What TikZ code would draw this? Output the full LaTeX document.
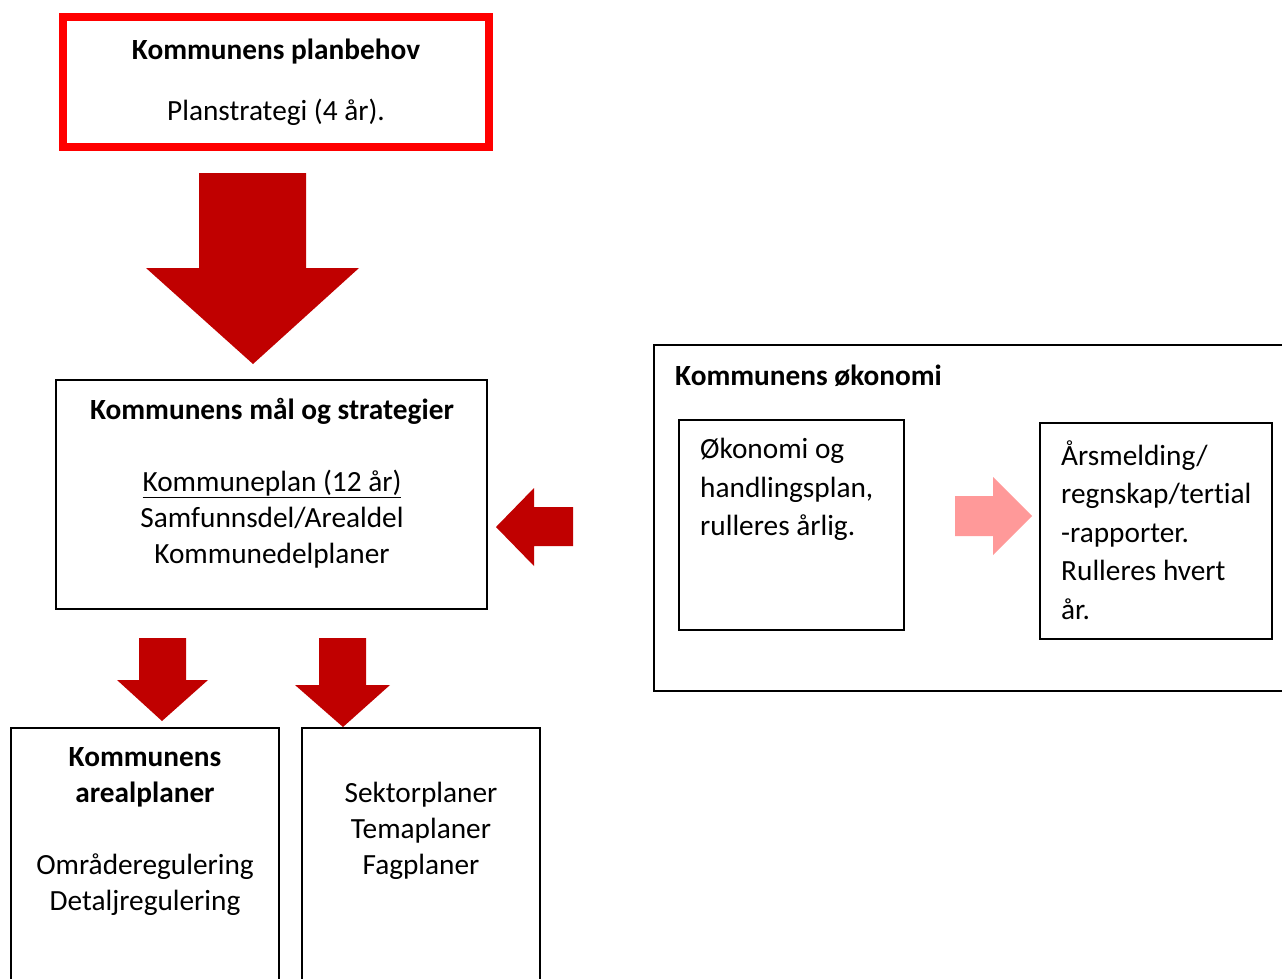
\documentclass[tikz,border=0pt]{standalone}
\usepackage{fontspec}
\setmainfont[Ligatures=NoCommon]{Carlito}
\definecolor{arrowred}{HTML}{C00000}
\definecolor{boxred}{HTML}{FF0000}
\definecolor{softpink}{HTML}{FF9999}
\begin{document}
\begin{tikzpicture}[x=1pt,y=-1pt,
  plainbox/.style={draw=black, line width=2pt, inner sep=0pt, fill=none},
  thinbox/.style={draw=black, line width=1.5pt, inner sep=0pt},
  redbox/.style={draw=boxred, line width=8pt, inner sep=0pt},
  txt/.style={inner sep=0pt, font=\fontsize{29.3}{36}\selectfont, align=center},
  ltxt/.style={inner sep=0pt, font=\fontsize{29.3}{38.5}\selectfont, align=left, anchor=west},
  bigarrow/.style={fill=arrowred, draw=none},
  pinkarrow/.style={fill=softpink, draw=none}]
\useasboundingbox (0,0) rectangle (1282,978);

% boxes
\node[redbox, minimum width=426pt, minimum height=130pt] (plan) at (276,82) {};
\node[plainbox, minimum width=431pt, minimum height=229pt] (mal) at (271.5,494.5) {};
\node[plainbox, minimum width=646pt, minimum height=346pt] (oko) at (977,518) {};
\node[thinbox, minimum width=225pt, minimum height=210pt] (hand) at (791.5,525) {};
\node[thinbox, minimum width=232pt, minimum height=216pt] (ars) at (1156,531) {};
\node[plainbox, minimum width=268pt, minimum height=262pt] (areal) at (145,859) {};
\node[plainbox, minimum width=238pt, minimum height=262pt] (sektor) at (421,859) {};

% texts
\node[txt] (planT) at (276,52) {\bfseries Kommunens planbehov};
\node[txt] (planS) at (276,112) {Planstrategi (4 år).};
\node[txt] (malT) at (272,411) {\bfseries Kommunens mål og strategier};
\node[txt] (malS) at (272,519) {\underline{Kommuneplan (12 år)}\\Samfunnsdel/Arealdel\\Kommunedelplaner};
\node[inner sep=0pt, font=\fontsize{29.3}{36}\selectfont\bfseries, anchor=west] (okoT) at (675,376) {Kommunens økonomi};
\node[ltxt] (handT) at (700,489.5) {Økonomi og\\handlingsplan,\\rulleres årlig.};
\node[ltxt] (arsT) at (1061,530) {Årsmelding/\\regnskap/tertial\\-rapporter.\\Rulleres hvert\\år.};
\node[txt] (arealT) at (145,777) {\bfseries Kommunens\\\bfseries arealplaner};
\node[txt] (arealS) at (145,885) {Områderegulering\\Detaljregulering};
\node[txt] (sektorT) at (421,831) {Sektorplaner\\Temaplaner\\Fagplaner};

% block arrows
\fill[bigarrow] (199,173) -- (306,173) -- (306,268) -- (359,268) -- (253,364) -- (146,268) -- (199,268) -- cycle;
\fill[bigarrow] (573,507) -- (534,507) -- (534,488) -- (496,527) -- (534,566) -- (534,546) -- (573,546) -- cycle;
\fill[pinkarrow] (955,496) -- (993,496) -- (993,477) -- (1032,516) -- (993,555) -- (993,536) -- (955,536) -- cycle;
\fill[bigarrow] (139,638) -- (186,638) -- (186,680) -- (208,680) -- (162,721) -- (117,680) -- (139,680) -- cycle;
\fill[bigarrow] (319,638) -- (366,638) -- (366,685) -- (390,685) -- (343,727) -- (295,685) -- (319,685) -- cycle;
\end{tikzpicture}
\end{document}
